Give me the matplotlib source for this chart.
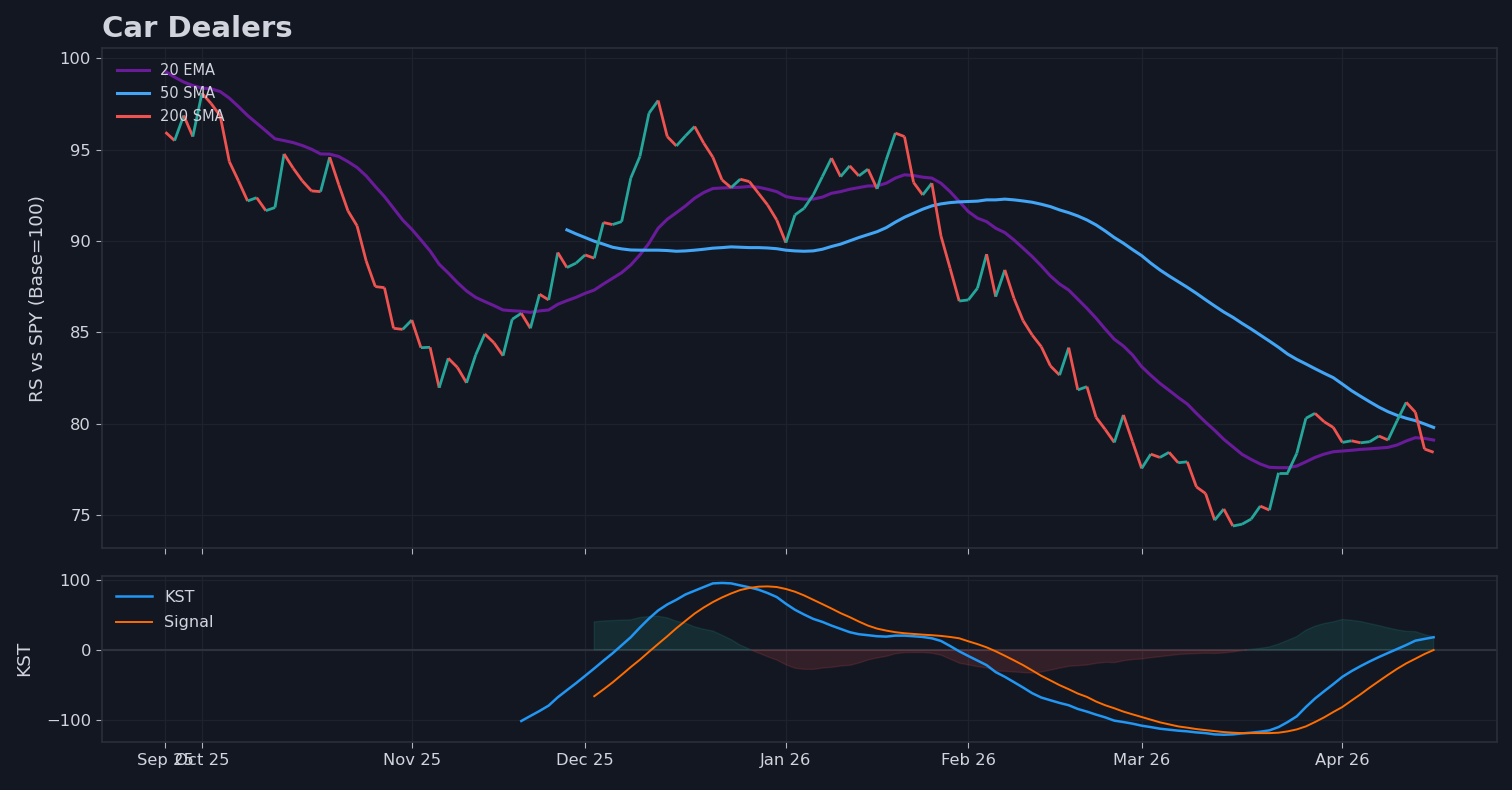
import numpy as np
import pandas as pd
import matplotlib
matplotlib.use('Agg')
import matplotlib.pyplot as plt
from matplotlib.collections import LineCollection

# trading days shown on the chart (NYSE holidays removed)
holidays = ['2025-11-27', '2025-12-25', '2026-01-01', '2026-01-19', '2026-02-16', '2026-04-03']
dates = pd.bdate_range('2025-09-25', '2026-04-16', freq='C', holidays=holidays)

# relative strength vs SPY, base = 100
rs = [95.95, 95.49, 96.86, 95.71, 98.08, 97.52, 96.84, 94.34, 93.29, 92.19,
      92.37, 91.66, 91.83, 94.76, 93.98, 93.29, 92.74, 92.70, 94.58, 93.07,
      91.65, 90.83, 88.91, 87.51, 87.45, 85.23, 85.17, 85.68, 84.17, 84.19,
      81.98, 83.59, 83.09, 82.25, 83.77, 84.92, 84.44, 83.73, 85.72, 86.05,
      85.23, 87.09, 86.78, 89.37, 88.55, 88.79, 89.24, 89.06, 91.01, 90.90,
      91.06, 93.44, 94.62, 96.99, 97.68, 95.71, 95.20, 95.75, 96.26, 95.35,
      94.58, 93.34, 92.92, 93.38, 93.25, 92.61, 91.97, 91.15, 89.91, 91.43,
      91.79, 92.52, 93.52, 94.53, 93.52, 94.11, 93.56, 93.93, 92.85, 94.44,
      95.90, 95.71, 93.20, 92.52, 93.16, 90.28, 88.51, 86.72, 86.78, 87.42,
      89.28, 86.96, 88.42, 86.87, 85.65, 84.86, 84.22, 83.17, 82.67, 84.17,
      81.86, 82.04, 80.36, 79.70, 78.99, 80.49, 79.03, 77.57, 78.35, 78.17,
      78.45, 77.88, 77.93, 76.56, 76.20, 74.74, 75.35, 74.42, 74.52, 74.80,
      75.51, 75.29, 77.33, 77.33, 78.39, 80.31, 80.58, 80.12, 79.81, 78.99,
      79.08, 78.97, 79.03, 79.34, 79.12, 80.18, 81.18, 80.64, 78.63, 78.45]

ema20 = [99.27, 98.96, 98.69, 98.50, 98.36, 98.32, 98.17, 97.81, 97.35, 96.86,
         96.44, 96.02, 95.59, 95.49, 95.38, 95.22, 95.02, 94.76, 94.75, 94.62,
         94.34, 94.02, 93.56, 92.98, 92.43, 91.79, 91.15, 90.64, 90.06, 89.46,
         88.73, 88.25, 87.73, 87.27, 86.92, 86.69, 86.47, 86.23, 86.19, 86.16,
         86.10, 86.18, 86.23, 86.54, 86.74, 86.92, 87.14, 87.32, 87.65, 87.96,
         88.27, 88.69, 89.24, 89.88, 90.70, 91.19, 91.55, 91.92, 92.34, 92.65,
         92.87, 92.90, 92.92, 92.94, 92.98, 92.94, 92.83, 92.70, 92.43, 92.34,
         92.29, 92.29, 92.40, 92.61, 92.70, 92.83, 92.92, 93.01, 93.01, 93.16,
         93.44, 93.62, 93.58, 93.49, 93.44, 93.16, 92.70, 92.16, 91.61, 91.25,
         91.06, 90.70, 90.46, 90.06, 89.61, 89.15, 88.64, 88.09, 87.65, 87.32,
         86.82, 86.32, 85.78, 85.19, 84.63, 84.26, 83.77, 83.13, 82.66, 82.22,
         81.84, 81.45, 81.09, 80.58, 80.10, 79.65, 79.16, 78.75, 78.34, 78.06,
         77.81, 77.63, 77.61, 77.61, 77.70, 77.93, 78.17, 78.35, 78.48, 78.52,
         78.56, 78.61, 78.64, 78.68, 78.72, 78.85, 79.07, 79.25, 79.21, 79.12]

sma50_start = 44
sma50 = [90.61, 90.39, 90.19, 89.99, 89.83, 89.66, 89.57, 89.51, 89.50, 89.50,
         89.50, 89.48, 89.44, 89.46, 89.50, 89.55, 89.61, 89.64, 89.68, 89.66,
         89.64, 89.64, 89.62, 89.58, 89.50, 89.46, 89.44, 89.46, 89.55, 89.70,
         89.83, 90.01, 90.19, 90.35, 90.51, 90.73, 91.03, 91.30, 91.52, 91.74,
         91.92, 92.03, 92.10, 92.14, 92.16, 92.18, 92.25, 92.25, 92.29, 92.25,
         92.19, 92.12, 92.01, 91.88, 91.70, 91.55, 91.37, 91.15, 90.88, 90.55,
         90.19, 89.88, 89.53, 89.20, 88.79, 88.42, 88.09, 87.78, 87.47, 87.14,
         86.79, 86.45, 86.12, 85.83, 85.50, 85.19, 84.86, 84.53, 84.19, 83.82,
         83.53, 83.28, 83.02, 82.77, 82.53, 82.18, 81.82, 81.51, 81.21, 80.92,
         80.67, 80.47, 80.31, 80.18, 80.00, 79.81]

kst_start = 39
kst = [-101.8, -94.6, -87.5, -79.8, -67.9, -57.8, -47.8, -37.3, -26.7, -15.8,
       -5.2, 6.3, 17.8, 31.6, 44.5, 56.0, 64.6, 71.3, 78.9, 84.2,
       89.5, 94.7, 95.3, 94.7, 91.8, 89.0, 85.7, 80.9, 75.2, 65.6,
       57.0, 50.2, 44.0, 39.7, 34.4, 29.7, 25.0, 22.1, 20.7, 19.2,
       18.7, 20.1, 20.1, 19.2, 18.2, 16.3, 12.5, 5.3, -2.3, -9.0,
       -15.5, -22.0, -32.0, -38.7, -46.3, -54.0, -62.1, -68.3, -72.2, -76.0,
       -79.3, -84.6, -88.4, -92.7, -96.6, -101.3, -103.3, -105.6, -108.5, -110.5,
       -112.8, -114.2, -115.6, -116.6, -118.1, -119.1, -120.9, -121.4, -120.9, -119.5,
       -118.5, -117.1, -115.2, -110.5, -103.3, -95.1, -81.8, -69.7, -59.3, -49.2,
       -38.7, -30.6, -23.4, -16.7, -10.5, -4.7, 1.0, 6.7, 12.9, 15.4,
       17.8]

signal_start = 47
signal = [-66.4, -56.8, -46.8, -35.9, -24.8, -14.3, -2.9, 8.2, 19.2, 30.7,
          41.2, 51.6, 60.3, 68.0, 74.6, 80.3, 85.2, 88.1, 90.0, 90.4,
          89.5, 86.7, 82.8, 77.5, 71.3, 65.1, 58.8, 52.2, 46.5, 40.2,
          34.4, 30.1, 27.3, 25.0, 23.5, 22.5, 21.5, 20.7, 19.7, 18.2,
          16.3, 12.0, 8.0, 3.4, -2.3, -8.6, -15.2, -22.0, -29.6, -37.3,
          -43.9, -50.6, -56.4, -62.6, -67.4, -74.0, -79.3, -83.6, -88.4, -92.3,
          -96.1, -99.9, -103.7, -106.6, -109.5, -111.3, -113.3, -114.8, -116.2, -117.6,
          -118.5, -119.1, -119.1, -119.1, -119.1, -118.5, -116.6, -113.8, -109.5, -103.3,
          -96.6, -89.0, -81.8, -72.6, -63.6, -54.0, -44.9, -35.9, -27.3, -19.5,
          -12.9, -6.2, -0.4]

# colours
bg = '#131722'
txt = '#d1d4dc'
edge = '#2a2e39'
up_c = '#26a69a'
dn_c = '#ef5350'

plt.rcParams['font.family'] = 'DejaVu Sans'
plt.rcParams['text.color'] = txt
plt.rcParams['axes.labelcolor'] = txt
plt.rcParams['xtick.color'] = txt
plt.rcParams['ytick.color'] = txt

fig = plt.figure(figsize=(15.12, 7.9), dpi=100, facecolor=bg)
ax = fig.add_axes([0.0675, 0.3059, 0.9226, 0.6333], facecolor=bg)
ax2 = fig.add_axes([0.0675, 0.0611, 0.9226, 0.2102], facecolor=bg, sharex=ax)

x = np.arange(len(rs))
rs_arr = np.array(rs)

# RS line, coloured per step (up = teal, down = red)
pts = np.column_stack([x, rs_arr])
segs = np.stack([pts[:-1], pts[1:]], axis=1)
seg_cols = [up_c if b >= a else dn_c for a, b in zip(rs_arr[:-1], rs_arr[1:])]
ax.add_collection(LineCollection(segs, colors=seg_cols, linewidths=2.0, zorder=3))

ax.plot(x, ema20, color='#6a1b9a', linewidth=2.2, label='20 EMA', zorder=2)
x_sma = np.arange(sma50_start, sma50_start + len(sma50))
ax.plot(x_sma, sma50, color='#42a5f5', linewidth=2.2, label='50 SMA', zorder=2)
ax.plot([], [], color=dn_c, linewidth=2.2, label='200 SMA')

ax.set_xlim(-6.95, 145.95)
ax.set_ylim(73.2, 100.55)
ax.set_ylabel('RS vs SPY (Base=100)', fontsize=13.3, labelpad=9)
ax.set_title('Car Dealers', loc='left', fontsize=21, fontweight='bold', color=txt, pad=8)
ax.legend(loc='upper left', frameon=False, fontsize=10.5, labelspacing=0.55,
          handlelength=2.2, labelcolor=txt, borderaxespad=0.6)

# KST panel
x_kst = np.arange(kst_start, kst_start + len(kst))
x_sig = np.arange(signal_start, signal_start + len(signal))
kst_arr = np.array(kst)
sig_arr = np.array(signal)
hist = kst_arr[signal_start - kst_start:] - sig_arr

ax2.axhline(0, color='#2e323d', linewidth=1.5, zorder=1)
ax2.fill_between(x_sig, hist, 0, where=hist >= 0, interpolate=True,
                 color=up_c, alpha=0.15, linewidth=1, zorder=1)
ax2.fill_between(x_sig, hist, 0, where=hist < 0, interpolate=True,
                 color=dn_c, alpha=0.15, linewidth=1, zorder=1)
ax2.plot(x_kst, kst, color='#2196f3', linewidth=1.8, label='KST', zorder=3)
ax2.plot(x_sig, signal, color='#ff6d00', linewidth=1.4, label='Signal', zorder=3)
ax2.set_ylim(-131.4, 105.7)
ax2.set_yticks([-100, 0, 100])
ax2.set_ylabel('KST', fontsize=13.3, labelpad=9)
ax2.legend(loc='upper left', frameon=False, fontsize=11.5, labelspacing=0.65,
           handlelength=2.2, labelcolor=txt)

# month ticks at first trading day of each month
months = dates.to_period('M')
tick_pos = [i for i in range(len(dates)) if i == 0 or months[i] != months[i - 1]]
tick_labels = [dates[i].strftime('%b %y') for i in tick_pos]
ax2.set_xticks(tick_pos)
ax2.set_xticklabels(tick_labels)
ax.tick_params(axis='x', labelbottom=False)

for a in (ax, ax2):
    a.grid(True, color='#1e222d', linewidth=0.9)
    a.set_axisbelow(True)
    a.tick_params(labelsize=11.8, color='#b2b5be', length=4.5)
    for s in a.spines.values():
        s.set_color(edge)
        s.set_linewidth(1.2)

fig.savefig('out.png', dpi=100, facecolor=bg)
